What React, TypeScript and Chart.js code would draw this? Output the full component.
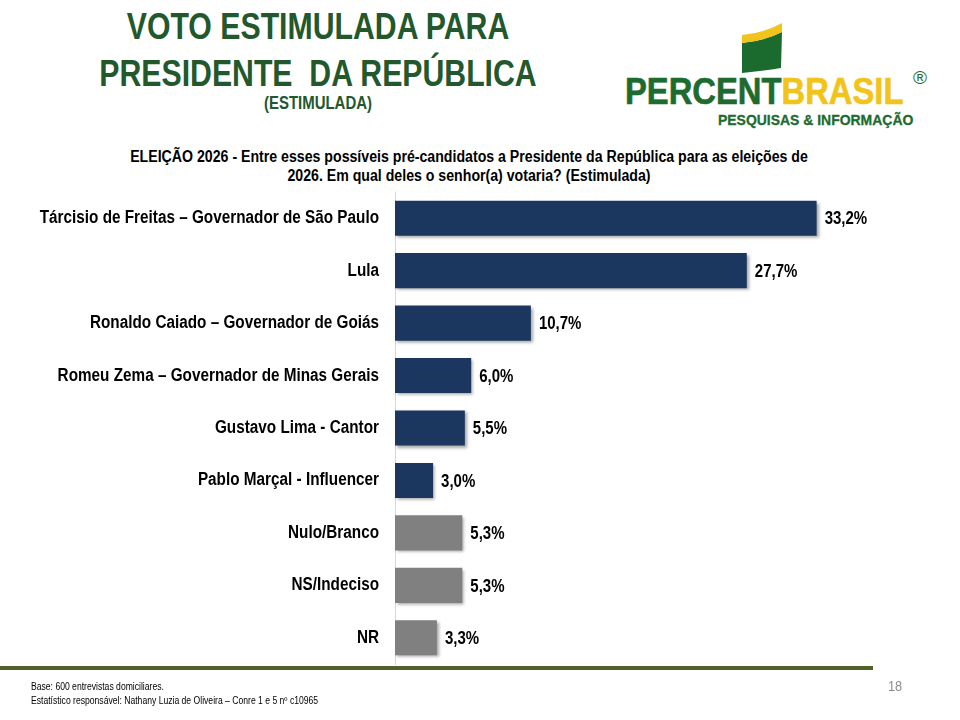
import React, { useEffect, useRef } from "react";
import { Chart, registerables } from "chart.js";

Chart.register(...registerables);

const categories = [
  "Tárcisio de Freitas – Governador de São Paulo",
  "Lula",
  "Ronaldo Caiado – Governador de Goiás",
  "Romeu Zema – Governador de Minas Gerais",
  "Gustavo Lima - Cantor",
  "Pablo Marçal - Influencer",
  "Nulo/Branco",
  "NS/Indeciso",
  "NR",
];
const values = [33.2, 27.7, 10.7, 6.0, 5.5, 3.0, 5.3, 5.3, 3.3];
const valueLabels = ["33,2%", "27,7%", "10,7%", "6,0%", "5,5%", "3,0%", "5,3%", "5,3%", "3,3%"];
const isCandidate = [true, true, true, true, true, true, false, false, false];

const SANS = '"Liberation Sans", Arial, sans-serif';
const NAVY = "#1b375f";
const GRAY = "#808080";
const GREEN = "#22582c";
const LOGO_GREEN = "#1d6b2e";

function Narrow(props: {
  x: number;
  top: number;
  scale: number;
  align: "center" | "left";
  style?: React.CSSProperties;
  children: React.ReactNode;
}) {
  const { x, top, scale, align, style, children } = props;
  return (
    <div
      style={{
        position: "absolute",
        left: x,
        top,
        whiteSpace: "nowrap",
        fontFamily: SANS,
        transformOrigin: align === "center" ? "center top" : "left top",
        transform: align === "center" ? `translateX(-50%) scaleX(${scale})` : `scaleX(${scale})`,
        textAlign: "center",
        ...style,
      }}
    >
      {children}
    </div>
  );
}

export default function App() {
  const ref = useRef<HTMLCanvasElement | null>(null);

  useEffect(() => {
    if (!ref.current) return;
    const labelPlugin = {
      id: "labelsAndShadow",
      beforeDatasetsDraw(chart: any) {
        const ctx = chart.ctx;
        ctx.save();
        ctx.shadowColor = "rgba(0,0,0,0.35)";
        ctx.shadowOffsetX = 2;
        ctx.shadowOffsetY = 2;
        ctx.shadowBlur = 3;
      },
      afterDatasetsDraw(chart: any) {
        const ctx = chart.ctx;
        ctx.restore();
        const meta = chart.getDatasetMeta(0);
        ctx.save();
        ctx.font = `bold 19px ${SANS}`;
        ctx.fillStyle = "#000";
        ctx.textAlign = "left";
        ctx.textBaseline = "middle";
        meta.data.forEach((bar: any, i: number) => {
          ctx.save();
          ctx.translate(bar.x + 8, bar.y + 1);
          ctx.scale(0.79, 1);
          ctx.fillText(valueLabels[i], 0, 0);
          ctx.restore();
        });
        ctx.restore();
        // category labels (condensed)
        const yScale = chart.scales.y;
        ctx.save();
        ctx.font = `bold 18px ${SANS}`;
        ctx.fillStyle = "#000";
        ctx.textAlign = "right";
        ctx.textBaseline = "middle";
        yScale.ticks.forEach((_t: any, i: number) => {
          const y = yScale.getPixelForTick(i);
          ctx.save();
          ctx.translate(yScale.right - 16, y);
          ctx.scale(0.85, 1);
          ctx.fillText(String(chart.data.labels[i]), 0, 0);
          ctx.restore();
        });
        ctx.restore();
      },
    };
    const chart = new Chart(ref.current, {
      type: "bar",
      data: {
        labels: categories,
        datasets: [
          {
            data: values,
            backgroundColor: isCandidate.map((c) => (c ? NAVY : GRAY)),
            borderWidth: 0,
            barPercentage: 0.67,
            categoryPercentage: 1,
          },
        ],
      },
      options: {
        indexAxis: "y",
        animation: false,
        responsive: false,
        maintainAspectRatio: false,
        layout: { padding: { top: 192, bottom: 56, left: 0, right: 57 } },
        plugins: { legend: { display: false }, tooltip: { enabled: false } },
        scales: {
          x: { display: false, min: 0, max: 40 },
          y: {
            afterFit: (scale: any) => {
              scale.width = 395;
            },
            grid: { display: false },
            border: { display: true, color: "#c6d9f1", width: 1 },
            ticks: { display: false },
          },
        },
      },
      plugins: [labelPlugin],
    });
    return () => chart.destroy();
  }, []);

  return (
    <div
      style={{
        position: "fixed",
        left: 0,
        top: 0,
        width: 960,
        height: 720,
        background: "#fff",
        overflow: "hidden",
        fontFamily: SANS,
      }}
    >
      <Narrow
        x={318}
        top={3}
        scale={0.84}
        align="center"
        style={{ color: GREEN, fontWeight: "bold", fontSize: 36, lineHeight: "47px" }}
      >
        VOTO ESTIMULADA PARA
        <br />
        PRESIDENTE&nbsp; DA REPÚBLICA
      </Narrow>
      <Narrow
        x={318}
        top={93}
        scale={0.83}
        align="center"
        style={{ color: GREEN, fontWeight: "bold", fontSize: 18 }}
      >
        (ESTIMULADA)
      </Narrow>

      {/* Logo */}
      <svg style={{ position: "absolute", left: 738, top: 20 }} width="48" height="58">
        <path d="M4 23 Q26 21 44 12 L43 48 Q24 51 4 53 Z" fill="#1c6b2e" />
        <path d="M4 15 Q26 13 44 3 L44 12 Q26 21 4 23 Z" fill="#f2c31b" />
      </svg>
      <Narrow
        x={625}
        top={71}
        scale={0.91}
        align="left"
        style={{ fontWeight: "bold", fontSize: 36, WebkitTextStroke: "0.6px currentColor" }}
      >
        <span style={{ color: LOGO_GREEN }}>PERCENT</span>
        <span style={{ color: "#f2c419" }}>BRASIL</span>
      </Narrow>
      <div
        style={{
          position: "absolute",
          left: 913,
          top: 67,
          fontSize: 19,
          color: LOGO_GREEN,
          fontFamily: SANS,
        }}
      >
        ®
      </div>
      <Narrow
        x={718}
        top={111}
        scale={0.9}
        align="left"
        style={{ fontWeight: "bold", fontSize: 15.5, color: LOGO_GREEN, WebkitTextStroke: "0.3px currentColor" }}
      >
        PESQUISAS &amp; INFORMAÇÃO
      </Narrow>

      <Narrow
        x={469}
        top={147}
        scale={0.884}
        align="center"
        style={{ color: "#000", fontWeight: "bold", fontSize: 16, lineHeight: "19px" }}
      >
        ELEIÇÃO 2026 - Entre esses possíveis pré-candidatos a Presidente da República para as eleições de
        <br />
        2026. Em qual deles o senhor(a) votaria? (Estimulada)
      </Narrow>

      <canvas ref={ref} width={960} height={720} style={{ position: "absolute", left: 0, top: 0 }} />

      <div
        style={{
          position: "absolute",
          left: 0,
          top: 666,
          width: 873,
          height: 4,
          background: "#4f6228",
        }}
      />
      <Narrow
        x={31}
        top={680}
        scale={0.86}
        align="left"
        style={{ fontSize: 10, lineHeight: "14px", color: "#000", textAlign: "left" }}
      >
        Base: 600 entrevistas domiciliares.
        <br />
        Estatístico responsável: Nathany Luzia de Oliveira – Conre 1 e 5 nº c10965
      </Narrow>
      <Narrow x={895} top={677} scale={0.85} align="center" style={{ fontSize: 15, color: "#8c8c8c" }}>
        18
      </Narrow>
    </div>
  );
}
